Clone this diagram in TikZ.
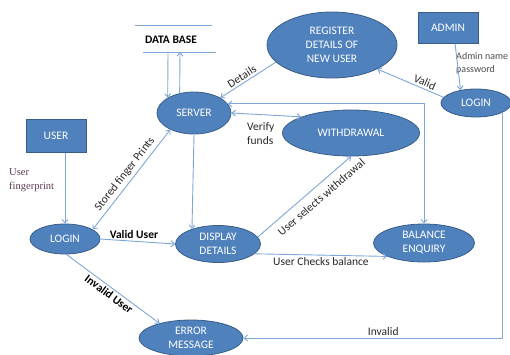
\documentclass[tikz,border=0pt]{standalone}
\usepackage{fontspec}
\setmainfont{Carlito}
\newfontfamily\notefont{Liberation Serif}
\usetikzlibrary{positioning,shapes.geometric,arrows.meta}
\definecolor{procfill}{HTML}{4F81BD}
\definecolor{procedge}{HTML}{385D8A}
\definecolor{linkc}{HTML}{7EA6D8}
\definecolor{notec}{HTML}{5B3A52}
\tikzset{
  proc/.style={ellipse, draw=procedge, fill=procfill, text=white, line width=0.8pt,
    inner sep=0pt, align=center, font=\fontsize{11.5}{14}\selectfont},
  actor/.style={rectangle, draw=procedge, fill=procfill, text=white, line width=0.8pt,
    inner sep=0pt, font=\fontsize{11.5}{14}\selectfont},
  link/.style={draw=linkc, line width=0.9pt},
  lbl/.style={font=\fontsize{11.5}{14}\selectfont, text=black!85, inner sep=2pt},
  blbl/.style={font=\bfseries\fontsize{11.5}{14}\selectfont, text=black, inner sep=2pt},
  >={Straight Barb[length=3.5pt,width=6pt]}
}
\begin{document}
\begin{tikzpicture}[x=1pt,y=-1pt]
                \useasboundingbox (0,0) rectangle (510,354);
                %Nodes
                \node[proc, minimum width=74pt, minimum height=42pt] at (194,113) (server) {SERVER};
                \node[actor, minimum width=60pt, minimum height=33pt] at (56,136) (user) {USER};
                \node[proc, minimum width=70pt, minimum height=30pt] at (65,239) (loginL) {LOGIN};
                \node[proc, minimum width=85pt, minimum height=37pt] at (218,244) (display) {DISPLAY\\DETAILS};
                \node[proc, minimum width=104pt, minimum height=36pt] at (191,338) (error) {ERROR\\MESSAGE};
                \node[proc, minimum width=130pt, minimum height=66pt] at (332,45) (register) {REGISTER\\DETAILS OF\\NEW USER};
                \node[actor, minimum width=60pt, minimum height=31pt] at (448,28) (admin) {ADMIN};
                \node[proc, minimum width=70pt, minimum height=28pt] at (476,103) (loginR) {LOGIN};
                \node[proc, minimum width=137pt, minimum height=46pt] at (351,133) (withdraw) {WITHDRAWAL};
                \node[proc, minimum width=101pt, minimum height=38pt] at (424,243) (balance) {BALANCE\\ENQUIRY};
                \node[blbl] at (171,40) (db) {DATA BASE};
                \node[notec, font=\notefont\fontsize{10.5}{14}\selectfont, align=left, anchor=west, inner sep=0pt] at (9,180) (ufp) {User\\fingerprint};
                \node[black!70, font=\fontsize{10}{13}\selectfont, align=left, anchor=west, inner sep=0pt] at (456,63) (apw) {Admin name\\password};

                %Data base
                \coordinate (dbA) at (168,52);
                \coordinate (dbB) at (180,52);
                \draw[link] (135,25) -- (212,25);
                \draw[link] (143,52) -- (216,52);

                %Lines
                \draw[link, ->] (dbA) -- (server.150);
                \draw[link, ->] (server.126) -- (dbB);
                \draw[link, ->] (loginL.north |- user.south) -- (loginL.north);
                \draw[link, <->] (loginL.19) -- node[lbl, sloped, above=1pt, pos=.5] {Stored finger Prints} (server.215);
                \draw[link, ->] (loginL.east) -- node[blbl, above, pos=.45] {Valid User} (display.west);
                \draw[link, ->] (loginL.-85) -- node[blbl, sloped, below, pos=.5] {Invalid User} (error.155);
                \draw[link, ->] (server.south) -- (display.150);
                \draw[link, ->] (display.10) -- node[lbl, sloped, below=5pt, pos=.6] {User selects withdrawal} (withdraw.south);
                \draw[link, ->] (display.-15) -- node[lbl, below, pos=.5] {User Checks balance} (balance.200);
                \draw[link, <->] (server.east) -- node[lbl, below=6pt, align=left, pos=.42] {Verify\\funds} (withdraw.162);
                \draw[link, <->] (balance.north) |- (server.15);
                \draw[link, <-] (server.30) -- node[lbl, sloped, above, pos=.45] {Details} (register.197);
                \draw[link, <-] (register.-28) -- node[lbl, sloped, above, pos=.68] {Valid} (loginR.170);
                \draw[link, ->] (admin.-66) -- (loginR.140);
                \draw[link, ->] (loginR.-20) |- node[lbl, above, pos=.73] {Invalid} (error.east);
            \end{tikzpicture}
\end{document}
